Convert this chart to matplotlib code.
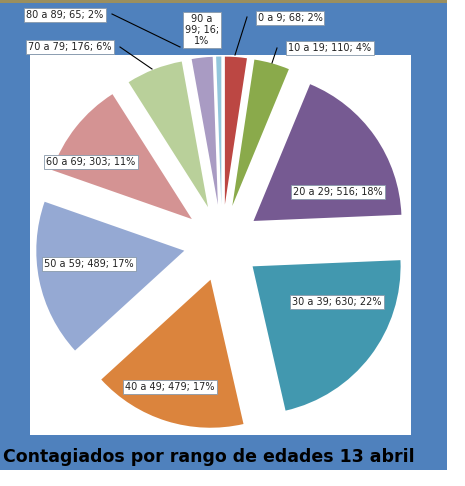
import matplotlib
matplotlib.use("Agg")
import matplotlib.pyplot as plt
from matplotlib.patches import Rectangle

categories = ["0 a 9", "10 a 19", "20 a 29", "30 a 39", "40 a 49", "50 a 59",
              "60 a 69", "70 a 79", "80 a 89", "90 a 99"]
values = [68, 110, 516, 630, 479, 489, 303, 176, 65, 16]
percents = ["2%", "4%", "18%", "22%", "17%", "17%", "11%", "6%", "2%", "1%"]
colors = ["#BC4743", "#8AAA4B", "#765A92", "#4298AF", "#DB843D", "#95A9D3",
          "#D49393", "#B9D09A", "#A99BC3", "#93C6DC"]

W, H = 465, 486
fig = plt.figure(figsize=(W/100, H/100), dpi=100)
fig.patch.set_facecolor("white")
def fr(x, y, w, h, c):
    fig.patches.append(Rectangle((x/W, 1-(y+h)/H), w/W, h/H, transform=fig.transFigure,
                                 facecolor=c, edgecolor="none", zorder=0))
fr(0, 0, 447, 470, "#4F81BD")
fr(0, 0, 447, 3, "#9B8F5E")
fr(30, 55, 381, 380, "white")

R = 148.0
cx, cy = 222, 243
ax = fig.add_axes([0, 0, 1, 1])
ax.set_zorder(2)
ax.patch.set_alpha(0)

ax.pie(values, colors=colors, startangle=90, counterclock=False,
       explode=[0.26]*len(values), wedgeprops=dict(linewidth=0))
ax.set_aspect("auto")
ax.set_xlim(-cx/R, (W-cx)/R)
ax.set_ylim(-(H-cy)/R, cy/R)
ax.axis("off")

def P(px, py):
    return ((px-cx)/R, (cy-py)/R)

label_px = [(290, 18), (330, 48), (338, 192), (337, 302), (170, 387), (89, 264),
            (91, 162), (70, 47), (65, 15), (202, 30)]
for i, (c, v, p) in enumerate(zip(categories, values, percents)):
    txt = f"{c}; {v}; {p}"
    if c == "90 a 99":
        txt = "90 a\n99; 16;\n1%"
    x, y = P(*label_px[i])
    ax.text(x, y, txt, ha="center", va="center", fontsize=7, color="#222222",
            linespacing=1.1,
            bbox=dict(boxstyle="square,pad=0.2", facecolor="white",
                      edgecolor="#8899AA", linewidth=0.6), zorder=5)

leaders = [((112, 14), (180, 47)), ((120, 47), (152, 69)),
           ((247, 17), (235, 55)), ((277, 48), (272, 63))]
for a, b in leaders:
    (x1, y1), (x2, y2) = P(*a), P(*b)
    ax.plot([x1, x2], [y1, y2], color="black", lw=0.8, zorder=4)

fig.text(3/W, 1-457/H, "Contagiados por rango de edades 13 abril", ha="left", va="center",
         fontsize=12.5, fontweight="bold", color="black", zorder=3)

fig.savefig("out.png", dpi=100)
